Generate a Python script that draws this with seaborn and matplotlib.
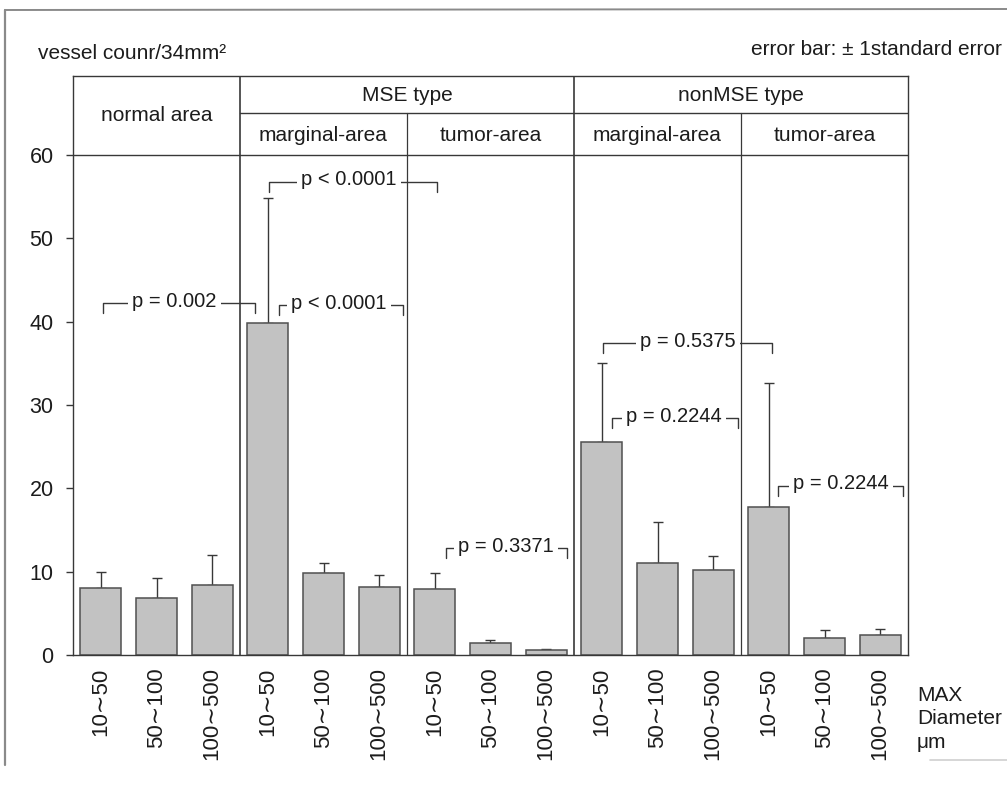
import numpy as np
import pandas as pd
import matplotlib
matplotlib.use("Agg")
import matplotlib.pyplot as plt
from matplotlib.lines import Line2D
import seaborn as sns

# ---------------- data ----------------
group_keys = ["normal", "MSE-marginal", "MSE-tumor", "nonMSE-marginal", "nonMSE-tumor"]
diam_labels = ["10∼50", "50∼100", "100∼500"]
values = [8.0, 6.8, 8.4,
          39.8, 9.8, 8.2,
          7.9, 1.5, 0.6,
          25.6, 11.0, 10.2,
          17.8, 2.1, 2.4]
errors = [2.0, 2.4, 3.6,
          15.0, 1.3, 1.4,
          2.0, 0.3, 0.15,
          9.4, 5.0, 1.7,
          14.8, 0.9, 0.7]
yticks = [0, 10, 20, 30, 40, 50, 60]

# p-value annotations: (left x, right x, line y, text, text x)
p_left = [0.04, 3.20, 3.02, 6.20, 9.02, 9.18, 12.16]
p_right = [2.77, 5.43, 6.04, 8.37, 12.06, 11.45, 14.41]
p_y = [42.2, 42.0, 56.8, 12.8, 37.4, 28.4, 20.3]
p_text = ["p = 0.002", "p < 0.0001", "p < 0.0001", "p = 0.3371",
          "p = 0.5375", "p = 0.2244", "p = 0.2244"]
p_text_x = [1.32, 4.28, 4.46, 7.28, 10.54, 10.30, 13.29]

header_top = ["normal area", "MSE type", "nonMSE type"]
header_sub = ["marginal-area", "tumor-area", "marginal-area", "tumor-area"]

# ---------------- style ----------------
sns.set_style("white")
plt.rcParams["font.family"] = ["Liberation Sans", "DejaVu Sans"]
LC = "#383838"
TC = "#1c1c1c"

keys = [f"{g}|{d}" for g in group_keys for d in diam_labels]
df = pd.DataFrame({"key": keys, "value": values, "err": errors})
tick_labels = [d for g in group_keys for d in diam_labels]

fig = plt.figure(figsize=(10.07, 7.85), dpi=100)
ax = fig.add_axes([73 / 1007, 1 - 655 / 785, (908 - 73) / 1007, (655 - 76) / 785])

sns.barplot(data=df, x="key", y="value", order=keys, color="#c2c2c2",
            saturation=1, width=0.74, edgecolor="#505050", linewidth=1.1,
            errorbar=None, ax=ax, zorder=2)

pos = np.arange(len(keys))
ax.errorbar(pos, df["value"], yerr=[np.zeros(len(pos)), df["err"]], fmt="none",
            ecolor=LC, elinewidth=1.0, capsize=3.5, capthick=1.0, zorder=1)

ax.set_xlim(-0.5, 14.5)
ax.set_ylim(0, 69.5)
ax.set_yticks(yticks)
ax.set_yticklabels([str(v) for v in yticks], fontsize=15.5, color=TC)
ax.set_xticks(pos)
ax.set_xticklabels(tick_labels, rotation=90, fontsize=16, color=TC, va="top")
ax.tick_params(axis="x", length=0, pad=9)
ax.tick_params(axis="y", length=5, width=1.0, color=LC, pad=9, left=True)
ax.set_xlabel("")
ax.set_ylabel("")
for s in ax.spines.values():
    s.set_color(LC)
    s.set_linewidth(1.0)

# header table lines
ax.plot([-0.5, 14.5], [60, 60], color=LC, lw=1.0, zorder=3)
ax.plot([2.5, 14.5], [65, 65], color=LC, lw=1.0, zorder=3)
for xv in [2.5, 8.5]:
    ax.plot([xv, xv], [0, 69.5], color=LC, lw=1.2, zorder=3)
for xv in [5.5, 11.5]:
    ax.plot([xv, xv], [0, 65], color=LC, lw=0.9, zorder=3)

HF = 15
ax.text(1.0, 64.8, header_top[0], ha="center", va="center", fontsize=HF, color=TC)
ax.text(5.5, 67.2, header_top[1], ha="center", va="center", fontsize=HF, color=TC)
ax.text(11.5, 67.2, header_top[2], ha="center", va="center", fontsize=HF, color=TC)
for cx, t in zip([4.0, 7.0, 10.0, 13.0], header_sub):
    ax.text(cx, 62.4, t, ha="center", va="center", fontsize=HF, color=TC)

# p-value brackets
for xl, xr, yy, t, tx in zip(p_left, p_right, p_y, p_text, p_text_x):
    ax.plot([xl, xl, xr, xr], [yy - 1.2, yy, yy, yy - 1.2], color=LC, lw=1.0, zorder=4)
    ax.text(tx, yy + 0.25, t, ha="center", va="center", fontsize=14.5, color=TC, zorder=5,
            bbox=dict(facecolor="white", edgecolor="none", pad=3))

# outer texts
fig.text(38 / 1007, 1 - 59 / 785, "vessel counr/34mm²", ha="left", va="baseline",
         fontsize=15, color=TC)
fig.text(1002 / 1007, 1 - 55 / 785, "error bar: ± 1standard error", ha="right",
         va="baseline", fontsize=15, color=TC)
fig.text(917 / 1007, 1 - 686 / 785, "MAX\nDiameter\nμm", ha="left", va="top",
         fontsize=15, color=TC, linespacing=1.3)

# scan frame
fig.add_artist(Line2D([5 / 1007, 5 / 1007], [1 - 10 / 785, 1 - 765 / 785],
                      color="#8a8a8a", lw=1.6))
fig.add_artist(Line2D([5 / 1007, 1.0], [1 - 10 / 785, 1 - 9 / 785],
                      color="#8a8a8a", lw=1.4))
fig.add_artist(Line2D([930 / 1007, 1.0], [1 - 760 / 785, 1 - 760 / 785],
                      color="#d0d0d0", lw=1.2))

fig.savefig("out.png", dpi=100)
